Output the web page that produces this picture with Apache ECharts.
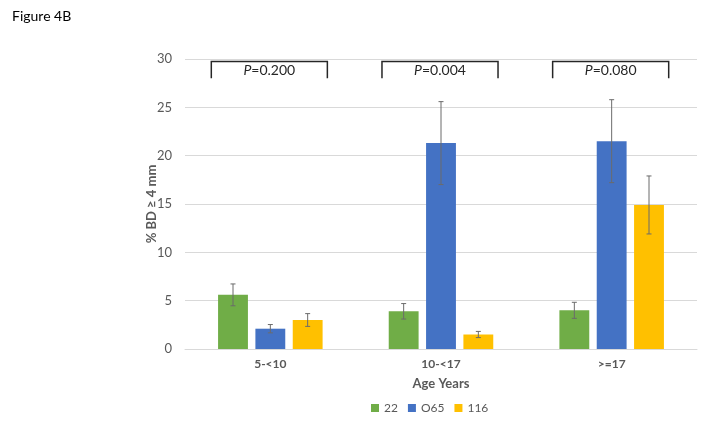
<!DOCTYPE html>
<html>
<head>
<meta charset="utf-8">
<script src="https://cdn.jsdelivr.net/npm/echarts@6/dist/echarts.min.js"></script>
<style>html,body{margin:0;padding:0;background:#fff;}#c{width:701px;height:424px;}</style>
</head>
<body>
<div id="c"></div>
<script>
const categories = ['5-<10', '10-<17', '>=17'];
const seriesNames = ['22', 'O65', '116'];
const values22 = [5.6, 3.9, 4.0];
const valuesO65 = [2.1, 21.3, 21.5];
const values116 = [3.0, 1.5, 14.9];
const err22 = [1.13, 0.8, 0.83];
const errO65 = [0.43, 4.29, 4.29];
const err116 = [0.66, 0.32, 3.0];
const pValues = ['0.200', '0.004', '0.080'];
const bracketTop = 29.75;
const bracketBottom = 28.0;
const yMin = 0, yMax = 30, yInterval = 5;

const colors = ['#70AD47', '#4472C4', '#FFC000'];
const allValues = [values22, valuesO65, values116];
const allErrors = [err22, errO65, err116];
const FONT = 'Lato, "Open Sans", sans-serif';
const BAR_W = 0.175, BAR_GAP = 0.25;

const chart = echarts.init(document.getElementById('c'), null, {renderer: 'canvas'});

const barSeries = seriesNames.map((n, k) => ({
  name: n, type: 'bar',
  data: allValues[k],
  barWidth: (BAR_W * 100) + '%',
  barGap: (BAR_GAP * 100) + '%',
  itemStyle: {color: colors[k]},
  z: 2
}));

const errSeries = seriesNames.map((n, k) => ({
  name: n + '_err', type: 'custom',
  data: allValues[k].map((v, i) => [i, v, allErrors[k][i]]),
  z: 5, silent: true,
  renderItem: function (params, api) {
    const i = api.value(0), v = api.value(1), e = api.value(2);
    const band = api.size([1, 0])[0];
    const off = (k - 1) * band * BAR_W * (1 + BAR_GAP);
    const top = api.coord([i, v + e]);
    const bot = api.coord([i, v - e]);
    const x = top[0] + off;
    const cap = 2.5;
    const st = {stroke: '#6b6b6b', lineWidth: 1};
    return {type: 'group', children: [
      {type: 'line', shape: {x1: x, y1: top[1], x2: x, y2: bot[1]}, style: st},
      {type: 'line', shape: {x1: x - cap, y1: top[1], x2: x + cap, y2: top[1]}, style: st},
      {type: 'line', shape: {x1: x - cap, y1: bot[1], x2: x + cap, y2: bot[1]}, style: st}
    ]};
  }
}));

const bracketSeries = {
  name: 'brackets', type: 'custom',
  data: categories.map((c, i) => [i, bracketTop, bracketBottom]),
  z: 6, silent: true, clip: false,
  renderItem: function (params, api) {
    const i = api.value(0);
    const band = api.size([1, 0])[0];
    const half = band * 0.34;
    const t = api.coord([i, api.value(1)]);
    const b = api.coord([i, api.value(2)]);
    const cx = t[0] - 1;
    return {type: 'group', children: [
      {type: 'polyline', shape: {points: [[cx - half, b[1]], [cx - half, t[1]], [cx + half, t[1]], [cx + half, b[1]]]},
        style: {stroke: '#262626', lineWidth: 1.5, fill: null}},
      {type: 'text', style: {
        x: cx, y: (t[1] + b[1]) / 2 + 1,
        text: '{i|P}=' + pValues[params.dataIndex],
        align: 'center', verticalAlign: 'middle',
        fontSize: 14, fontFamily: FONT, fill: '#262626',
        rich: {i: {fontStyle: 'italic', fontSize: 14, fontFamily: FONT, fill: '#262626'}}
      }}
    ]};
  }
};

chart.setOption({
  animation: false,
  textStyle: {fontFamily: FONT},
  title: {text: 'Figure 4B', left: 7, top: 4, textStyle: {fontSize: 14, fontWeight: 'normal', color: '#000', fontFamily: FONT}},
  grid: {left: 185, right: 4, top: 59, bottom: 75},
  legend: {
    data: seriesNames, left: 366, bottom: 5, icon: 'rect', itemWidth: 8, itemHeight: 8, itemGap: 10,
    textStyle: {fontSize: 12, color: '#595959', fontFamily: FONT}
  },
  xAxis: {
    type: 'category', data: categories,
    axisTick: {show: false},
    axisLine: {lineStyle: {color: '#D9D9D9'}},
    axisLabel: {fontSize: 12, fontWeight: 'bold', color: '#595959', margin: 9, fontFamily: FONT},
    name: 'Age Years', nameLocation: 'middle', nameGap: 28,
    nameTextStyle: {fontSize: 13, fontWeight: 'bold', color: '#595959', fontFamily: FONT}
  },
  yAxis: {
    type: 'value', min: yMin, max: yMax, interval: yInterval,
    axisLine: {show: false}, axisTick: {show: false},
    splitLine: {lineStyle: {color: '#D9D9D9'}},
    axisLabel: {fontSize: 13, color: '#595959', margin: 13, fontFamily: FONT},
    name: '% BD \u2265 4 mm', nameLocation: 'middle', nameGap: 27, nameMoveOverlap: false,
    nameTextStyle: {fontSize: 13, fontWeight: 'bold', color: '#595959', fontFamily: FONT}
  },
  series: [...barSeries, ...errSeries, bracketSeries]
});
</script>
</body>
</html>
